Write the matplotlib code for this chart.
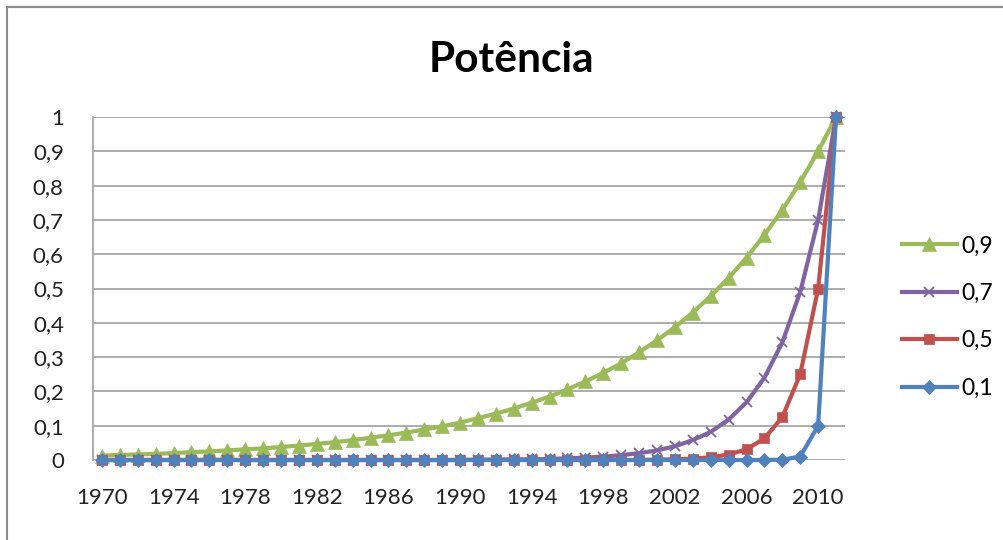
import matplotlib
matplotlib.use("Agg")
import matplotlib.pyplot as plt
from matplotlib.patches import Rectangle

years = list(range(1970, 2012))
tick_years = list(range(1970, 2011, 4))

serie_09 = [0.013, 0.015, 0.016, 0.018, 0.020, 0.023, 0.025, 0.028, 0.031, 0.034,
            0.038, 0.042, 0.047, 0.052, 0.058, 0.065, 0.072, 0.080, 0.089, 0.098,
            0.109, 0.122, 0.135, 0.150, 0.167, 0.185, 0.206, 0.229, 0.254, 0.282,
            0.314, 0.349, 0.387, 0.430, 0.478, 0.531, 0.590, 0.656, 0.729, 0.810,
            0.900, 1.000]
serie_07 = [0.000] * 21 + [0.001, 0.001, 0.002, 0.002, 0.003, 0.005, 0.007,
                           0.010, 0.014, 0.020, 0.028, 0.040, 0.058, 0.082,
                           0.118, 0.168, 0.240, 0.343, 0.490, 0.700, 1.000]
serie_05 = [0.000] * 31 + [0.001, 0.002, 0.004, 0.008, 0.016, 0.031, 0.063,
                           0.125, 0.250, 0.500, 1.000]
serie_01 = [0.000] * 38 + [0.001, 0.010, 0.100, 1.000]

series = [
    ("0,9", serie_09, "#9BBB59", "^", 9.5),
    ("0,7", serie_07, "#8064A2", "x", 6.5),
    ("0,5", serie_05, "#C0504D", "s", 7.5),
    ("0,1", serie_01, "#4F81BD", "D", 7.5),
]

plt.rcParams["font.family"] = ["Lato", "DejaVu Sans"]

fig = plt.figure(figsize=(10.04, 5.4), dpi=100)
ax = fig.add_axes([93 / 1004, 1 - 460 / 540, (845 - 93) / 1004, (460 - 117) / 540])

x = list(range(len(years)))
for label, vals, color, marker, ms in series:
    mew = 1.3 if marker == "x" else 0.5
    ax.plot(x, vals, color=color, lw=3.0, marker=marker, markersize=ms,
            markeredgewidth=mew, markeredgecolor=color, markerfacecolor=color,
            label=label, solid_joinstyle="round", clip_on=False, zorder=3)

ax.set_xlim(-0.5, len(years) - 0.5)
ax.set_ylim(0, 1)
ax.set_yticks([i / 10 for i in range(11)])
ax.set_yticklabels(["0"] + [f"0,{i}" for i in range(1, 10)] + ["1"], fontsize=16,
                   color="#222222")
ax.set_xticks([years.index(y) for y in tick_years])
ax.set_xticklabels([str(y) for y in tick_years], fontsize=16, color="#222222")
ax.tick_params(axis="both", length=0)
ax.tick_params(axis="y", pad=21)
ax.tick_params(axis="x", pad=20)

ax.grid(axis="y", color="#A6A6A6", lw=1.3)
ax.set_axisbelow(True)
for side in ("top", "right"):
    ax.spines[side].set_visible(False)
ax.spines["bottom"].set_visible(False)
ax.spines["left"].set_color("#A6A6A6")
ax.spines["left"].set_linewidth(1.3)

fig.text(511 / 1004, 1 - 60 / 540, "Potência", ha="center", va="center",
         fontsize=30.5, fontweight="bold", color="#000000")

leg = ax.legend(loc="center left", bbox_to_anchor=(881 / 1004, 1 - 317 / 540),
                bbox_transform=fig.transFigure, frameon=False, fontsize=16.5,
                handlelength=2.4, labelspacing=1.15, handletextpad=0.2)

fig.patches.append(Rectangle((7 / 1004, -0.1), 1.2, 1 - 7 / 540 + 0.1,
                             transform=fig.transFigure, fill=False,
                             edgecolor="#8C8C8C", lw=1.5))

fig.savefig("out.png", dpi=100)
